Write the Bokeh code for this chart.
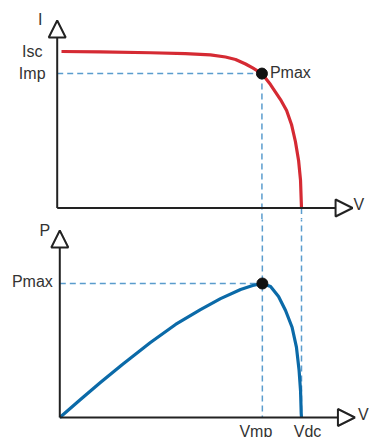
from bokeh.plotting import figure
from bokeh.layouts import column
from bokeh.models import Arrow, NormalHead, Range1d
from bokeh.core.properties import value
from bokeh.embed import file_html
from bokeh.resources import INLINE

# Key values (normalized: Voc = 1, Isc = 1)
voc = 1.0
isc = 1.0
vmp = 0.838
imp = 0.859
pmax = 0.72

# I-V curve
iv_v = [0.0176, 0.177, 0.382, 0.525, 0.627, 0.689, 0.730, 0.771, 0.800, 0.838,
        0.873, 0.914, 0.939, 0.959, 0.975, 0.988, 0.996, 0.9988, 1.0]
iv_i = [1.0, 0.997, 0.992, 0.987, 0.978, 0.965, 0.949, 0.920, 0.895, 0.859,
        0.789, 0.693, 0.623, 0.534, 0.425, 0.304, 0.176, 0.048, 0.0]

# P-V curve
pv_v = [0.0, 0.0856, 0.168, 0.259, 0.375, 0.479, 0.582, 0.665, 0.748, 0.798, 0.837,
        0.872, 0.905, 0.934, 0.961, 0.979, 0.990, 0.996, 0.9988, 1.0]
pv_p = [0.0, 0.0967, 0.188, 0.285, 0.403, 0.500, 0.580, 0.639, 0.688, 0.709, 0.720,
        0.704, 0.650, 0.575, 0.485, 0.378, 0.253, 0.145, 0.0215, 0.0]

# Axis extents and labels
top_v_end = 1.209
top_i_end = 1.198
bot_v_end = 1.221
bot_p_end = 1.005
top_axis_labels = ["I", "V"]
bot_axis_labels = ["P", "V"]
top_point_labels = ["Isc", "Imp", "Pmax"]
bot_point_labels = ["Pmax", "Vmp", "Vdc"]

RED = "#d52a33"
BLUE = "#0b6aa8"
DASH = "#5a9ccd"
INK = "#222222"
TXT = "#333333"
FONT = value("Liberation Sans")
FS = "16px"


def make_fig(h, xr, yr):
    p = figure(width=369, height=h, x_range=Range1d(*xr), y_range=Range1d(*yr),
               x_axis_type=None, y_axis_type=None, toolbar_location=None,
               output_backend="svg", min_border=0, title=None)
    p.outline_line_color = None
    p.background_fill_color = "white"
    p.border_fill_color = "white"
    return p


def axis_arrows(p, x_end, y_end):
    for xe, ye in ((x_end, 0), (0, y_end)):
        p.add_layout(Arrow(end=NormalHead(size=17, fill_color="white", line_color=INK, line_width=2),
                           x_start=0, y_start=0, x_end=xe, y_end=ye,
                           line_color=INK, line_width=2))


# ---------------- top: I-V ----------------
top = make_fig(219, (-0.2321, 1.2783), (-0.0735, 1.3259))

top.line([0, vmp], [imp, imp], line_color=DASH, line_width=1.5, line_dash="6 4")
top.line([vmp, vmp], [imp, -0.3], line_color=DASH, line_width=1.5, line_dash="6 4")
top.line([voc, voc], [0, -0.3], line_color=DASH, line_width=1.5, line_dash="6 4")

top.line(iv_v, iv_i, line_color=RED, line_width=3.2, line_join="round", line_cap="butt")
axis_arrows(top, top_v_end, top_i_end)
top.scatter([vmp], [imp], size=11, color="#111111")

top.text(x=[0], y=[top_i_end], text=[top_axis_labels[0]], x_offset=-17, y_offset=-1,
         text_align="center", text_baseline="middle", text_font=FONT,
         text_font_size=FS, text_color=TXT)
top.text(x=[top_v_end], y=[0], text=[top_axis_labels[1]], x_offset=1, y_offset=-3,
         text_align="left", text_baseline="middle", text_font=FONT,
         text_font_size=FS, text_color=TXT)
top.text(x=[0, 0], y=[isc, imp], text=top_point_labels[:2], x_offset=-25, y_offset=0,
         text_align="center", text_baseline="middle", text_font=FONT,
         text_font_size=FS, text_color=TXT)
top.text(x=[vmp], y=[imp], text=[top_point_labels[2]], x_offset=8, y_offset=-1,
         text_align="left", text_baseline="alphabetic", text_font=FONT,
         text_font_size=FS, text_color=TXT)

# ---------------- bottom: P-V ----------------
bot = make_fig(218, (-0.2453, 1.2813), (-0.1075, 1.0640))

bot.line([0, vmp], [pmax, pmax], line_color=DASH, line_width=1.5, line_dash="6 4")
bot.line([vmp, vmp], [1.3, 0], line_color=DASH, line_width=1.5, line_dash="6 4")
bot.line([voc, voc], [1.3, 0], line_color=DASH, line_width=1.5, line_dash="6 4")

bot.line(pv_v, pv_p, line_color=BLUE, line_width=3.2, line_join="round", line_cap="butt")
axis_arrows(bot, bot_v_end, bot_p_end)
bot.scatter([vmp], [pmax], size=11, color="#111111")

bot.text(x=[0], y=[bot_p_end], text=[bot_axis_labels[0]], x_offset=-15, y_offset=0,
         text_align="center", text_baseline="middle", text_font=FONT,
         text_font_size=FS, text_color=TXT)
bot.text(x=[bot_v_end], y=[0], text=[bot_axis_labels[1]], x_offset=3, y_offset=-3,
         text_align="left", text_baseline="middle", text_font=FONT,
         text_font_size=FS, text_color=TXT)
bot.text(x=[0], y=[pmax], text=[bot_point_labels[0]], x_offset=-7, y_offset=-2,
         text_align="right", text_baseline="middle", text_font=FONT,
         text_font_size=FS, text_color=TXT)
bot.text(x=[vmp], y=[0], text=[bot_point_labels[1]], x_offset=-6.5, y_offset=6,
         text_align="center", text_baseline="top", text_font=FONT,
         text_font_size=FS, text_color=TXT)
bot.text(x=[voc], y=[0], text=[bot_point_labels[2]], x_offset=6, y_offset=6,
         text_align="center", text_baseline="top", text_font=FONT,
         text_font_size=FS, text_color=TXT)

layout = column(top, bot, spacing=0)
open("out.html", "w").write(file_html(layout, INLINE))
